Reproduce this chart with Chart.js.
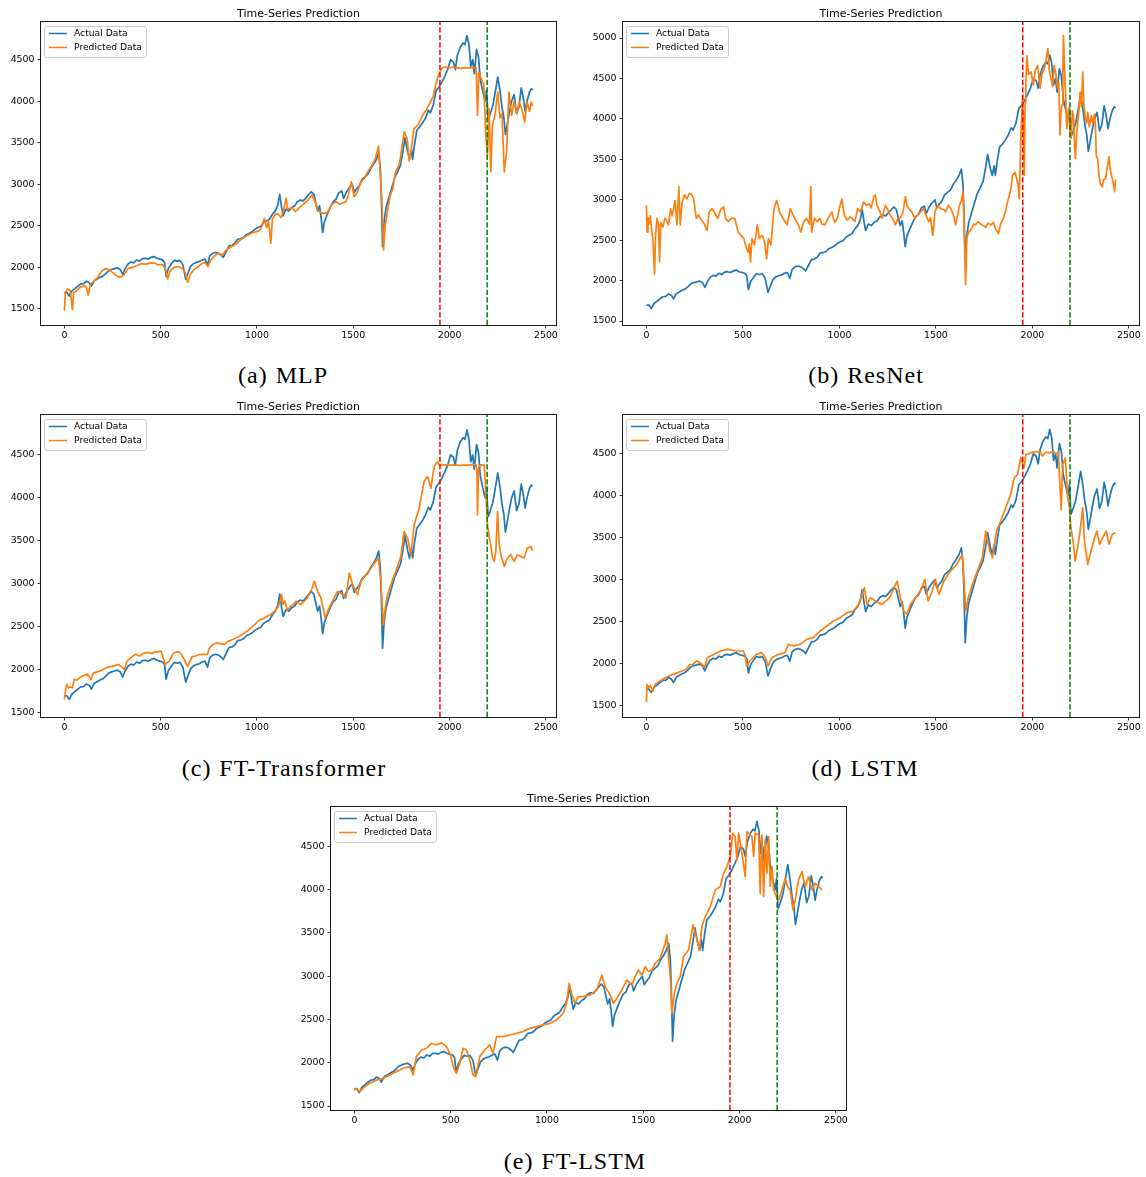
<!DOCTYPE html>
<html>
<head>
<meta charset="utf-8">
<script src="https://cdn.jsdelivr.net/npm/chart.js@4.4.0/dist/chart.umd.min.js"></script>
<style>
  html, body { margin: 0; padding: 0; background: #fff; width: 1146px; height: 1177px; overflow: hidden; position: relative; }
  canvas { position: absolute; }
  .cap { position: absolute; width: 400px; text-align: center; font-family: 'Liberation Serif', 'Times New Roman', serif;
         font-size: 24px; line-height: 24px; letter-spacing: 1px; word-spacing: 1px; color: #000; white-space: nowrap; }
</style>
</head>
<body>
<script>
// Day index of the train / validation / test boundaries
const splitVal = 1950;
const splitTest = 2195;

const xTicks = [0, 500, 1000, 1500, 2000, 2500];
const X_MIN = -121.5, X_MAX = 2552.5;

// Index closing values: [day index, value]
const actualClose = [[0,1695],[12,1700],[25,1655],[40,1720],[55,1745],[70,1775],[85,1800],[100,1805],[115,1835],[130,1815],[140,1775],[155,1840],[170,1860],[185,1880],[200,1895],[215,1925],[230,1960],[245,1975],[260,1985],[275,1995],[290,1975],[303,1915],[315,1985],[330,2040],[345,2065],[360,2055],[375,2090],[390,2075],[405,2105],[420,2110],[435,2100],[450,2120],[465,2130],[480,2110],[495,2100],[510,2090],[520,2060],[528,1890],[540,1990],[555,2040],[570,2085],[585,2075],[600,2085],[615,2030],[630,1855],[640,1920],[655,2010],[670,2045],[685,2060],[700,2070],[715,2090],[730,2100],[743,2030],[755,2140],[770,2170],[785,2180],[800,2170],[815,2145],[825,2120],[840,2190],[855,2260],[870,2265],[885,2290],[900,2340],[915,2345],[930,2360],[945,2395],[960,2410],[975,2430],[990,2460],[1005,2480],[1020,2495],[1035,2540],[1050,2560],[1065,2580],[1080,2640],[1095,2680],[1108,2750],[1118,2880],[1128,2720],[1136,2620],[1150,2700],[1165,2680],[1180,2720],[1195,2740],[1210,2790],[1225,2810],[1240,2800],[1255,2840],[1270,2880],[1282,2910],[1295,2880],[1305,2780],[1315,2680],[1325,2740],[1333,2600],[1341,2420],[1350,2550],[1365,2640],[1380,2720],[1395,2790],[1410,2820],[1425,2900],[1440,2920],[1450,2830],[1465,2910],[1480,2960],[1495,3000],[1505,2900],[1515,2940],[1530,2980],[1545,3060],[1560,3090],[1575,3120],[1590,3190],[1605,3240],[1620,3300],[1632,3380],[1640,3200],[1645,2900],[1652,2250],[1660,2550],[1670,2720],[1685,2840],[1700,2960],[1715,3080],[1730,3150],[1745,3230],[1758,3400],[1768,3560],[1782,3390],[1792,3300],[1802,3420],[1808,3300],[1818,3480],[1830,3650],[1845,3690],[1860,3740],[1875,3800],[1890,3890],[1900,3860],[1915,3950],[1930,4130],[1945,4170],[1960,4230],[1975,4300],[1990,4380],[2005,4500],[2020,4470],[2030,4380],[2040,4550],[2055,4650],[2070,4700],[2080,4680],[2090,4790],[2100,4690],[2110,4420],[2120,4500],[2128,4330],[2140,4620],[2150,4530],[2160,4250],[2172,4120],[2185,4000],[2192,4130],[2200,3780],[2210,3840],[2225,3950],[2240,4150],[2250,4290],[2262,4120],[2272,3930],[2282,3800],[2290,3600],[2298,3700],[2310,3860],[2322,4000],[2335,4080],[2348,3850],[2360,3930],[2372,4160],[2382,4050],[2392,3880],[2402,4000],[2415,4110],[2425,4150],[2431,4135]];

// Model predictions: [day index, value]
const mlpPred = [[0,1480],[5,1700],[15,1740],[30,1720],[42,1495],[48,1700],[60,1710],[80,1760],[100,1780],[115,1760],[124,1665],[135,1800],[150,1830],[170,1870],[190,1945],[210,1985],[230,1975],[250,1940],[270,1900],[290,1880],[310,1910],[330,1985],[350,2000],[375,2020],[400,2045],[425,2040],[450,2055],[470,2050],[490,2030],[510,2035],[525,1980],[536,1860],[550,1960],[570,2000],[590,2010],[610,1990],[625,1950],[640,1820],[655,1920],[670,1970],[690,2000],[710,2040],[730,2060],[745,2010],[760,2090],[780,2140],[800,2170],[820,2150],[840,2210],[860,2240],[880,2265],[900,2300],[920,2340],[940,2370],[960,2400],[980,2420],[1000,2430],[1020,2460],[1038,2590],[1050,2480],[1060,2550],[1072,2290],[1080,2580],[1095,2640],[1110,2640],[1125,2600],[1140,2700],[1150,2830],[1160,2700],[1180,2720],[1200,2670],[1220,2720],[1240,2760],[1260,2800],[1285,2870],[1300,2800],[1315,2690],[1330,2660],[1349,2650],[1365,2660],[1390,2760],[1410,2790],[1430,2760],[1450,2780],[1462,2790],[1475,2880],[1490,3030],[1505,2850],[1520,2900],[1540,3030],[1560,3080],[1575,3150],[1595,3220],[1615,3310],[1631,3460],[1640,3150],[1650,2700],[1657,2210],[1665,2500],[1672,2600],[1690,2850],[1705,2950],[1720,3150],[1740,3250],[1764,3630],[1780,3550],[1790,3280],[1800,3400],[1815,3670],[1835,3710],[1860,3830],[1880,3900],[1900,3990],[1915,4060],[1929,4210],[1945,4330],[1960,4400],[1980,4410],[2000,4400],[2020,4410],[2040,4400],[2060,4395],[2080,4400],[2100,4400],[2120,4405],[2138,4400],[2145,3830],[2152,4350],[2165,4270],[2178,4200],[2188,3590],[2197,3350],[2205,3910],[2214,3150],[2222,3700],[2235,3830],[2250,4110],[2262,3800],[2272,3850],[2284,3150],[2296,3390],[2308,4110],[2322,3830],[2335,4000],[2348,3850],[2362,3990],[2375,3900],[2390,3750],[2402,3990],[2415,3880],[2425,3990],[2431,3940]];

const resnetPred = [[0,2930],[3,2600],[8,2780],[14,2700],[20,2800],[26,2650],[33,2520],[42,2080],[47,2560],[55,2770],[62,2700],[68,2230],[74,2720],[85,2660],[95,2770],[105,2740],[115,2690],[125,2890],[133,2800],[140,2880],[148,2990],[158,2690],[168,3160],[175,2690],[185,2970],[198,3060],[210,3010],[222,3080],[235,3060],[245,3010],[258,2770],[270,2810],[285,2750],[300,2700],[314,2620],[325,2850],[340,2890],[355,2830],[370,2770],[385,2880],[400,2910],[410,2770],[425,2730],[440,2770],[458,2770],[475,2600],[490,2560],[505,2520],[518,2400],[527,2350],[533,2450],[539,2230],[547,2520],[560,2440],[575,2690],[585,2520],[600,2560],[612,2480],[623,2270],[632,2520],[645,2440],[660,2860],[666,2930],[675,2990],[690,2850],[705,2780],[718,2730],[730,2690],[745,2890],[760,2810],[775,2740],[787,2690],[800,2600],[815,2730],[830,2770],[845,2700],[852,3160],[856,2600],[870,2770],[885,2730],[900,2770],[909,2700],[925,2690],[940,2770],[961,2850],[975,2720],[990,2770],[1000,2900],[1013,3010],[1025,2810],[1040,2750],[1055,2790],[1065,2770],[1080,2730],[1095,2890],[1110,2850],[1125,2970],[1140,2930],[1155,2950],[1165,2900],[1178,3040],[1186,3060],[1195,2930],[1210,2850],[1221,2770],[1238,2930],[1250,2880],[1264,2810],[1277,2760],[1290,2690],[1303,2770],[1316,2780],[1330,2850],[1342,3040],[1350,2930],[1362,2880],[1375,2850],[1390,2770],[1405,2810],[1420,2850],[1437,2890],[1450,2800],[1463,2730],[1472,2780],[1484,2560],[1495,2850],[1510,2930],[1525,2890],[1540,2880],[1550,2850],[1565,2930],[1580,2880],[1592,2800],[1602,2690],[1612,2800],[1622,2930],[1632,2990],[1640,3100],[1645,2800],[1649,2360],[1654,1950],[1660,2520],[1670,2600],[1685,2640],[1695,2700],[1706,2690],[1720,2730],[1732,2700],[1745,2680],[1758,2660],[1770,2710],[1785,2690],[1798,2720],[1810,2640],[1824,2580],[1835,2700],[1850,2770],[1860,2850],[1871,2970],[1880,3050],[1890,3150],[1897,3300],[1910,3340],[1925,3200],[1932,3010],[1940,3750],[1949,4290],[1954,3700],[1958,3300],[1962,4200],[1966,4450],[1972,4780],[1980,4550],[1993,4580],[2005,4420],[2015,4600],[2027,4660],[2040,4380],[2050,4560],[2062,4620],[2072,4750],[2080,4870],[2088,4600],[2096,4500],[2105,4400],[2113,4660],[2122,4550],[2131,4370],[2137,4450],[2143,3800],[2148,4100],[2154,4170],[2158,4600],[2161,5030],[2166,4660],[2172,4300],[2178,3880],[2183,4000],[2188,4130],[2195,3800],[2201,3760],[2207,4100],[2213,4040],[2218,3700],[2223,3510],[2229,3800],[2235,3960],[2241,4100],[2247,4330],[2254,4150],[2261,4580],[2267,4170],[2275,4000],[2282,3950],[2287,4080],[2295,3900],[2305,4040],[2313,3950],[2322,4060],[2327,3900],[2331,3550],[2338,3500],[2345,3300],[2352,3200],[2362,3160],[2370,3250],[2379,3260],[2388,3400],[2397,3530],[2405,3350],[2412,3280],[2421,3180],[2426,3100],[2431,3250]];

const ftTransformerPred = [[0,1655],[6,1760],[13,1830],[22,1790],[32,1800],[42,1790],[51,1890],[65,1880],[80,1910],[100,1930],[120,1950],[138,1890],[150,1960],[170,1975],[190,1990],[210,2015],[230,2030],[255,2045],[280,2060],[300,2030],[311,2000],[325,2100],[345,2140],[370,2180],[390,2160],[410,2190],[430,2200],[450,2190],[470,2205],[485,2210],[501,2216],[512,2150],[522,2060],[532,2080],[545,2100],[560,2170],[570,2197],[585,2210],[600,2200],[612,2160],[622,2120],[632,2070],[640,2040],[650,2090],[662,2150],[680,2160],[700,2175],[720,2180],[743,2177],[752,2250],[770,2290],[795,2313],[815,2300],[830,2295],[850,2330],[870,2350],[890,2370],[910,2390],[930,2420],[950,2450],[968,2487],[990,2530],[1005,2564],[1020,2585],[1038,2603],[1055,2625],[1072,2642],[1090,2680],[1107,2719],[1120,2800],[1128,2874],[1136,2760],[1145,2800],[1158,2690],[1175,2740],[1190,2760],[1202,2797],[1228,2758],[1262,2835],[1285,2940],[1297,3029],[1315,2913],[1332,2835],[1354,2603],[1375,2719],[1400,2835],[1418,2913],[1444,2874],[1462,2835],[1479,3125],[1496,2990],[1522,2874],[1540,3029],[1565,3106],[1592,3183],[1617,3261],[1631,3300],[1643,3029],[1649,2800],[1655,2526],[1666,2719],[1678,2874],[1704,3048],[1721,3145],[1747,3319],[1764,3609],[1782,3532],[1799,3338],[1816,3687],[1842,3880],[1868,4190],[1885,4248],[1903,4113],[1920,4364],[1937,4422],[1946,4383],[1960,4380],[1980,4385],[2000,4380],[2020,4385],[2040,4380],[2060,4378],[2080,4382],[2100,4380],[2120,4385],[2137,4390],[2142,4300],[2145,3800],[2150,4345],[2160,4383],[2180,4380],[2188,4074],[2197,3687],[2206,3532],[2214,3454],[2223,3300],[2232,3261],[2240,3377],[2249,3841],[2256,3493],[2266,3338],[2284,3203],[2300,3300],[2318,3338],[2335,3261],[2352,3338],[2370,3319],[2387,3300],[2404,3416],[2422,3435],[2431,3380]];

const lstmPred = [[0,1540],[3,1754],[12,1714],[20,1740],[33,1675],[45,1754],[60,1780],[75,1800],[95,1830],[115,1850],[137,1873],[162,1893],[180,1910],[205,1933],[225,1990],[241,1992],[260,2032],[280,2010],[302,1952],[315,2071],[350,2111],[385,2151],[420,2171],[467,2151],[501,2151],[512,2100],[519,1972],[535,2032],[570,2111],[597,2131],[615,2080],[631,1972],[650,2071],[685,2111],[718,2131],[735,2230],[761,2210],[796,2230],[830,2290],[865,2310],[900,2389],[935,2448],[970,2508],[1004,2548],[1039,2607],[1073,2627],[1100,2706],[1129,2905],[1143,2706],[1160,2786],[1186,2746],[1221,2706],[1260,2786],[1299,2984],[1316,2786],[1333,2627],[1351,2587],[1368,2706],[1394,2786],[1420,2865],[1443,3004],[1460,2746],[1481,2865],[1498,3004],[1515,2825],[1542,2984],[1568,3083],[1602,3163],[1637,3302],[1646,2984],[1654,2627],[1668,2786],[1689,2944],[1715,3103],[1741,3262],[1758,3579],[1779,3341],[1793,3262],[1814,3579],[1836,3698],[1862,3857],[1888,4016],[1906,4214],[1923,4254],[1940,4452],[1957,4333],[1966,4492],[1984,4500],[2000,4520],[2020,4524],[2040,4520],[2053,4472],[2070,4520],[2088,4510],[2110,4524],[2123,4500],[2135,4520],[2140,4254],[2149,3837],[2157,4373],[2171,4452],[2183,3976],[2192,3857],[2200,3619],[2213,3421],[2221,3222],[2235,3381],[2247,3579],[2261,3857],[2270,3460],[2287,3183],[2304,3341],[2322,3500],[2334,3579],[2348,3421],[2365,3500],[2383,3579],[2397,3421],[2414,3540],[2431,3560]];

const ftLstmPred = [[0,1685],[10,1704],[28,1666],[54,1724],[80,1762],[115,1801],[149,1820],[184,1859],[218,1897],[253,1936],[288,1955],[305,1859],[322,2071],[348,2148],[374,2167],[400,2225],[426,2206],[452,2232],[478,2186],[499,2090],[513,1955],[530,1878],[547,1993],[564,2167],[582,2148],[599,2032],[616,1859],[630,1839],[651,2071],[677,2148],[703,2206],[720,2109],[738,2302],[772,2302],[807,2321],[842,2340],[876,2360],[911,2398],[945,2418],[980,2437],[1015,2456],[1049,2495],[1067,2533],[1084,2572],[1101,2687],[1115,2919],[1127,2803],[1145,2687],[1162,2764],[1190,2765],[1224,2784],[1259,2842],[1285,3015],[1302,2880],[1328,2784],[1345,2687],[1363,2745],[1389,2842],[1415,2957],[1441,2899],[1458,2996],[1475,3073],[1493,3015],[1510,3111],[1527,3054],[1545,3073],[1562,3150],[1588,3208],[1614,3381],[1622,3478],[1631,3227],[1643,2919],[1648,2572],[1661,2803],[1675,2919],[1692,2996],[1709,3227],[1735,3304],[1758,3593],[1775,3458],[1792,3304],[1804,3574],[1822,3690],[1848,3805],[1874,3998],[1900,4037],[1917,4191],[1934,4268],[1952,4384],[1964,4653],[1977,4615],[1986,4345],[1995,4653],[2012,4422],[2029,4152],[2038,4673],[2055,4634],[2064,4615],[2073,4384],[2081,4653],[2099,4634],[2107,3959],[2116,4634],[2125,3921],[2133,4576],[2142,4191],[2151,4615],[2159,4037],[2168,4268],[2177,3998],[2191,3921],[2203,3882],[2220,3998],[2237,4133],[2249,4037],[2263,3998],[2277,3767],[2289,3882],[2306,4114],[2324,4210],[2341,4037],[2358,4152],[2376,3998],[2393,4075],[2410,4037],[2428,3998]];

const ticksA = [1500, 2000, 2500, 3000, 3500, 4000, 4500];
const ticksB = [1500, 2000, 2500, 3000, 3500, 4000, 4500, 5000];

const BLUE = '#1f77b4', ORANGE = '#ff7f0e', RED = '#ff0000', GREEN = '#008000';
const TICK_FONT = { family: 'DejaVu Sans', size: 9.4 };

const panels = [
  { box: [41, 22, 556, 325],   yMin: 1307, yMax: 4953, yTicks: ticksA, pred: mlpPred,           caption: '(a) MLP',            capX: 283, capY: 363 },
  { box: [623, 22, 1139, 325], yMin: 1451, yMax: 5198, yTicks: ticksB, pred: resnetPred,        caption: '(b) ResNet',         capX: 866, capY: 363 },
  { box: [41, 415, 556, 717],  yMin: 1450, yMax: 4964, yTicks: ticksA, pred: ftTransformerPred, caption: '(c) FT-Transformer', capX: 284, capY: 756 },
  { box: [623, 415, 1139, 717],yMin: 1365, yMax: 4961, yTicks: ticksA, pred: lstmPred,          caption: '(d) LSTM',           capX: 865, capY: 756 },
  { box: [331, 807, 846, 1110],yMin: 1454, yMax: 4956, yTicks: ticksA, pred: ftLstmPred,        caption: '(e) FT-LSTM',        capX: 575, capY: 1149 }
];

const toPoints = pairs => pairs.map(p => ({ x: p[0], y: p[1] }));

// Axes frame, title and an in-axes legend
const decorations = {
  id: 'decorations',
  afterDraw(chart) {
    const ctx = chart.ctx, ca = chart.chartArea;
    ctx.save();
    ctx.strokeStyle = '#1a1a1a';
    ctx.lineWidth = 1;
    ctx.strokeRect(ca.left - 0.5, ca.top - 0.5, ca.right - ca.left + 1, ca.bottom - ca.top + 1);

    ctx.fillStyle = '#000';
    ctx.font = '11px "DejaVu Sans"';
    ctx.textAlign = 'center';
    ctx.textBaseline = 'alphabetic';
    ctx.fillText('Time-Series Prediction', (ca.left + ca.right) / 2, ca.top - 5);

    const x0 = ca.left + 3.5, y0 = ca.top + 4.5, w = 102, h = 31, r = 2.5;
    ctx.beginPath();
    ctx.moveTo(x0 + r, y0);
    ctx.lineTo(x0 + w - r, y0); ctx.quadraticCurveTo(x0 + w, y0, x0 + w, y0 + r);
    ctx.lineTo(x0 + w, y0 + h - r); ctx.quadraticCurveTo(x0 + w, y0 + h, x0 + w - r, y0 + h);
    ctx.lineTo(x0 + r, y0 + h); ctx.quadraticCurveTo(x0, y0 + h, x0, y0 + h - r);
    ctx.lineTo(x0, y0 + r); ctx.quadraticCurveTo(x0, y0, x0 + r, y0);
    ctx.closePath();
    ctx.fillStyle = 'rgba(255,255,255,0.8)';
    ctx.fill();
    ctx.strokeStyle = '#cccccc';
    ctx.stroke();

    const rows = [['Actual Data', BLUE], ['Predicted Data', ORANGE]];
    ctx.font = '9.2px "DejaVu Sans"';
    ctx.textAlign = 'left';
    ctx.textBaseline = 'middle';
    rows.forEach((row, i) => {
      const y = y0 + 7 + i * 14;
      ctx.strokeStyle = row[1];
      ctx.lineWidth = 1.5;
      ctx.beginPath();
      ctx.moveTo(x0 + 4.5, y); ctx.lineTo(x0 + 22.5, y);
      ctx.stroke();
      ctx.fillStyle = '#000';
      ctx.fillText(row[0], x0 + 29.5, y + 0.5);
    });
    ctx.restore();
  }
};

function makePanel(cfg) {
  const padL = 44, padT = 24, padR = 8, padB = 26;
  const [L, T, R, B] = cfg.box;
  const w = (R - L) + padL + padR, h = (B - T) + padT + padB;
  const c = document.createElement('canvas');
  c.width = w; c.height = h;
  c.style.width = w + 'px'; c.style.height = h + 'px';
  c.style.left = (L - padL) + 'px'; c.style.top = (T - padT) + 'px';
  document.body.appendChild(c);

  const vline = (x, color) => ({
    data: [{ x: x, y: cfg.yMin }, { x: x, y: cfg.yMax }],
    borderColor: color, borderWidth: 1.5, borderDash: [5.2, 2.3], order: 0
  });

  new Chart(c, {
    type: 'line',
    data: {
      datasets: [
        vline(splitVal, RED),
        vline(splitTest, GREEN),
        { label: 'Predicted Data', data: toPoints(cfg.pred), borderColor: ORANGE, borderWidth: 1.7, order: 1 },
        { label: 'Actual Data', data: toPoints(actualClose), borderColor: BLUE, borderWidth: 1.7, order: 2 }
      ]
    },
    options: {
      responsive: false, animation: false, devicePixelRatio: 1, events: [],
      layout: { padding: { left: 0, top: padT, right: padR, bottom: 0 } },
      elements: { point: { radius: 0 }, line: { tension: 0, fill: false, borderJoinStyle: 'round' } },
      plugins: { legend: { display: false }, title: { display: false }, tooltip: { enabled: false } },
      scales: {
        x: {
          type: 'linear', min: X_MIN, max: X_MAX,
          afterBuildTicks: s => { s.ticks = xTicks.map(v => ({ value: v })); },
          afterFit: s => { s.height = padB; },
          ticks: { font: TICK_FONT, color: '#000', padding: 1, maxRotation: 0, autoSkip: false, callback: v => String(v) },
          grid: { drawOnChartArea: false, drawTicks: true, tickLength: 3.5, color: '#000', lineWidth: 0.8 },
          border: { display: false }
        },
        y: {
          type: 'linear', min: cfg.yMin, max: cfg.yMax,
          afterBuildTicks: s => { s.ticks = cfg.yTicks.map(v => ({ value: v })); },
          afterFit: s => { s.width = padL; },
          ticks: { font: TICK_FONT, color: '#000', padding: 3, autoSkip: false, callback: v => String(v) },
          grid: { drawOnChartArea: false, drawTicks: true, tickLength: 3.5, color: '#000', lineWidth: 0.8 },
          border: { display: false }
        }
      }
    },
    plugins: [decorations]
  });

  const cap = document.createElement('div');
  cap.className = 'cap';
  cap.textContent = cfg.caption;
  cap.style.left = (cfg.capX - 200) + 'px';
  cap.style.top = cfg.capY + 'px';
  document.body.appendChild(cap);
}

panels.forEach(makePanel);
</script>
</body>
</html>
